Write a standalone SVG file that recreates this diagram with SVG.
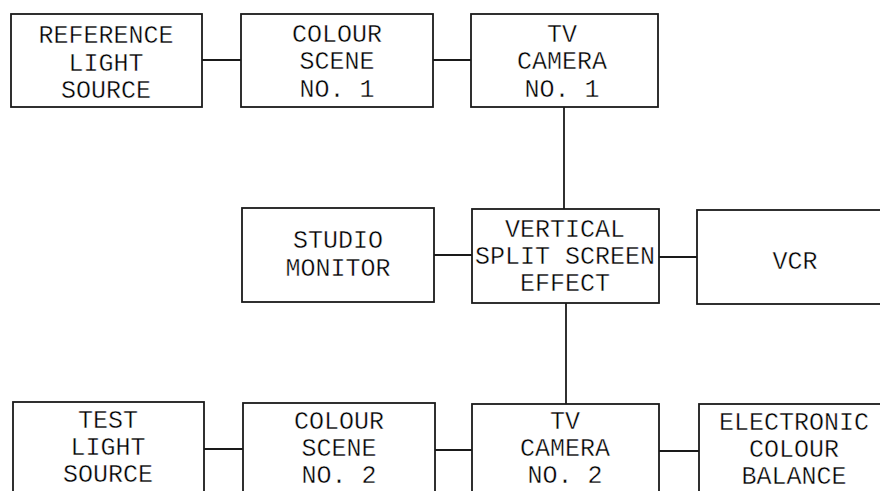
<svg xmlns="http://www.w3.org/2000/svg" width="880" height="491" viewBox="0 0 880 491">
<style>
.box{fill:#fff;stroke:#1a1a1a;stroke-width:1.8}
.ln{stroke:#1a1a1a;stroke-width:1.8;fill:none}
text{font-family:"Liberation Mono","DejaVu Sans Mono",monospace;font-size:25px;fill:#000;stroke:#fff;stroke-width:0.4;text-anchor:middle}
</style>
<rect width="880" height="491" fill="#fff"/>
<g id="connectors">
<line class="ln" x1="202" y1="60" x2="241" y2="60"/>
<line class="ln" x1="433" y1="60" x2="471" y2="60"/>
<line class="ln" x1="564" y1="107" x2="564" y2="209"/>
<line class="ln" x1="434" y1="255" x2="472" y2="255"/>
<line class="ln" x1="659" y1="257" x2="697" y2="257"/>
<line class="ln" x1="566" y1="303" x2="566" y2="404"/>
<line class="ln" x1="204" y1="449" x2="243" y2="449"/>
<line class="ln" x1="435" y1="450" x2="472" y2="450"/>
<line class="ln" x1="659" y1="451" x2="699" y2="451"/>
</g>
<g id="ref-light">
<rect class="box" x="11" y="14" width="191" height="93"/>
<text x="106" y="43">REFERENCE</text>
<text x="106" y="71">LIGHT</text>
<text x="106" y="98">SOURCE</text>
</g>
<g id="colour-scene-1">
<rect class="box" x="241" y="14" width="192" height="93"/>
<text x="337" y="42">COLOUR</text>
<text x="337" y="69">SCENE</text>
<text x="337" y="97">NO. 1</text>
</g>
<g id="tv-camera-1">
<rect class="box" x="471" y="14" width="187" height="93"/>
<text x="562" y="42">TV</text>
<text x="562" y="69">CAMERA</text>
<text x="562" y="97">NO. 1</text>
</g>
<g id="studio-monitor">
<rect class="box" x="242" y="208" width="192" height="94"/>
<text x="338" y="248">STUDIO</text>
<text x="338" y="276">MONITOR</text>
</g>
<g id="split-screen">
<rect class="box" x="472" y="209" width="187" height="94"/>
<text x="565" y="237">VERTICAL</text>
<text x="565" y="264">SPLIT SCREEN</text>
<text x="565" y="291">EFFECT</text>
</g>
<g id="vcr">
<rect class="box" x="697" y="210" width="194" height="94"/>
<text x="795" y="269">VCR</text>
</g>
<g id="test-light">
<rect class="box" x="13" y="402" width="191" height="94"/>
<text x="108" y="428">TEST</text>
<text x="108" y="455">LIGHT</text>
<text x="108" y="482">SOURCE</text>
</g>
<g id="colour-scene-2">
<rect class="box" x="243" y="403" width="192" height="94"/>
<text x="339" y="429">COLOUR</text>
<text x="339" y="456">SCENE</text>
<text x="339" y="483">NO. 2</text>
</g>
<g id="tv-camera-2">
<rect class="box" x="472" y="404" width="187" height="94"/>
<text x="565" y="429">TV</text>
<text x="565" y="456">CAMERA</text>
<text x="565" y="483">NO. 2</text>
</g>
<g id="electronic-balance">
<rect class="box" x="699" y="404" width="192" height="94"/>
<text x="794" y="430">ELECTRONIC</text>
<text x="794" y="457">COLOUR</text>
<text x="794" y="484">BALANCE</text>
</g>
</svg>
